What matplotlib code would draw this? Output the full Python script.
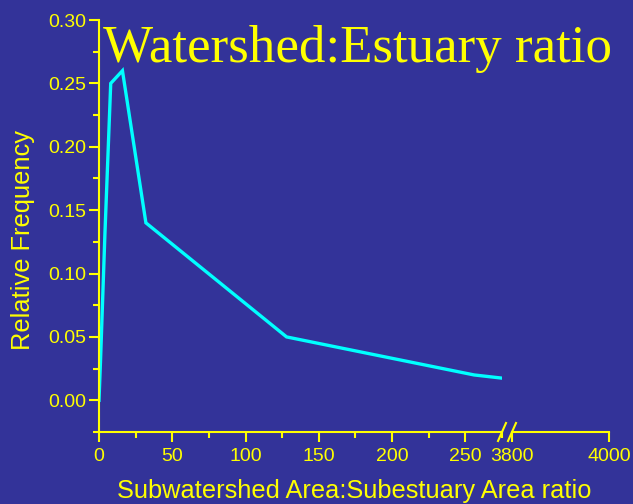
import matplotlib
matplotlib.use('Agg')
import matplotlib.pyplot as plt
from matplotlib.ticker import MultipleLocator

# data
ratio = [0, 1, 4, 8, 16, 32, 128, 256, 275]
freq = [0.0, 0.03, 0.13, 0.25, 0.26, 0.14, 0.05, 0.02, 0.0175]
y_ticks = [0.00, 0.05, 0.10, 0.15, 0.20, 0.25, 0.30]
x_ticks_left = [0, 50, 100, 150, 200, 250]
x_ticks_right = [3800, 4000]

bg = '#333399'
yel = '#ffff00'
cyan = '#00ffff'

W, H = 633, 504
fig = plt.figure(figsize=(6.33, 5.04), dpi=100, facecolor=bg)
plt.rcParams['font.family'] = ['Liberation Sans', 'DejaVu Sans']

axL = fig.add_axes([99 / W, 72 / H, 403 / W, 412 / H], facecolor=bg)
axR = fig.add_axes([512 / W, 72 / H, 97 / W, 412 / H], facecolor=bg)

axL.plot(ratio, freq, color=cyan, lw=2.4, solid_joinstyle='miter')
axL.set_xlim(0, 275)
axL.set_ylim(-0.025, 0.30)
axR.set_xlim(3800, 4000)
axR.set_ylim(-0.025, 0.30)

for ax in (axL, axR):
    for s in ('top', 'right'):
        ax.spines[s].set_visible(False)
    ax.spines['bottom'].set_color(yel)
    ax.spines['bottom'].set_linewidth(1.5)
    ax.tick_params(colors=yel, labelcolor=yel, labelsize=14, width=1.5,
                   length=7, direction='out', pad=2.5)
    ax.tick_params(axis='x', pad=4.5)
    ax.tick_params(which='minor', colors=yel, width=1.5, length=4)

axL.spines['left'].set_color(yel)
axL.spines['left'].set_linewidth(1.5)
axL.set_yticks(y_ticks)
axL.set_yticklabels([f'{v:.2f}' for v in y_ticks])
axL.yaxis.set_minor_locator(MultipleLocator(0.025))
axL.set_xticks(x_ticks_left)
axL.xaxis.set_minor_locator(MultipleLocator(25))

axR.spines['left'].set_visible(False)
axR.set_yticks([])
axR.set_xticks(x_ticks_right)

fig.text(23 / W, 1 - 240 / H, 'Relative Frequency', color=yel, fontsize=18.3,
         rotation=90, ha='center', va='center')
fig.text(354.5 / W, 1 - 491 / H, 'Subwatershed Area:Subestuary Area ratio',
         color=yel, fontsize=18.3, ha='center', va='center')

# axis break marks
for x0 in (498, 508):
    fig.add_artist(plt.Line2D([x0 / W, (x0 + 8) / W], [(H - 441) / H, (H - 423) / H],
                              color=yel, lw=1.5, transform=fig.transFigure))

fig.text(103 / W, 1 - 62 / H, 'Watershed:Estuary ratio', color=yel,
         fontsize=38.2, family='Liberation Serif', ha='left', va='baseline')

fig.savefig('out.png', dpi=100, facecolor=bg)
